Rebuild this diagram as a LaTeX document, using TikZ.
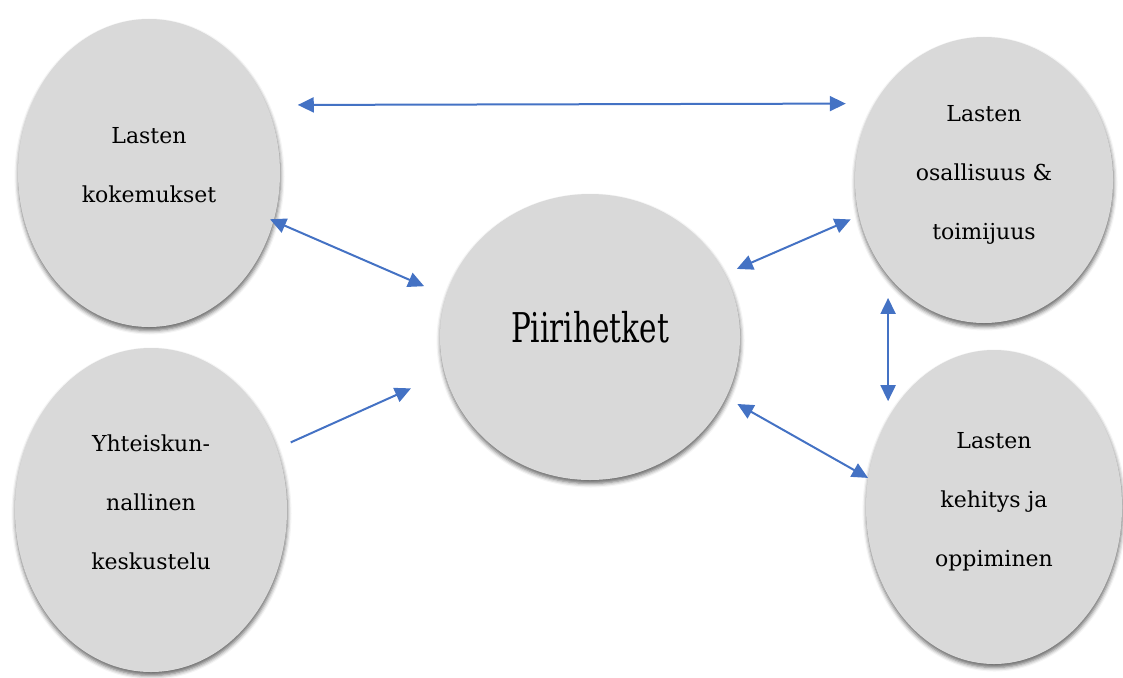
\documentclass[tikz,border=0pt]{standalone}
\usepackage{fontspec}
\setmainfont{DejaVu Serif}
\newfontfamily\bigserif[FakeStretch=0.72]{DejaVu Serif}
\usetikzlibrary{arrows.meta, shapes.geometric, shadows.blur}
\definecolor{bubblegray}{HTML}{D9D9D9}
\definecolor{linkblue}{HTML}{4472C4}
\tikzset{
    bubble/.style={
        ellipse, fill=bubblegray, align=center, inner sep=0pt,
        font=\fontsize{22}{59}\selectfont, text depth=16pt,
        blur shadow={shadow xshift=0.5pt, shadow yshift=-3.5pt, shadow blur radius=4pt, shadow opacity=60}
    },
    link/.style={draw=linkblue, line width=2pt, <->},
    >={Triangle[length=16pt,width=15pt]}
}
\begin{document}
\begin{tikzpicture}[x=1pt, y=-1pt]
    \useasboundingbox (0,0) rectangle (1123,677);
    % bubbles
    \node[bubble, minimum width=262pt, minimum height=308pt] (kok) at (149,173) {Lasten\\kokemukset};
    \node[bubble, minimum width=272pt, minimum height=324pt] (yht) at (151,510) {Yhteiskun-\\nallinen\\keskustelu};
    \node[bubble, minimum width=300pt, minimum height=286pt, font=\bigserif\fontsize{41}{48}\selectfont, text height=30pt, text depth=20pt] (pii) at (590,337) {Piirihetket};
    \node[bubble, minimum width=258pt, minimum height=286pt] (osa) at (984,180) {Lasten\\osallisuus \&\\toimijuus};
    \node[bubble, minimum width=256pt, minimum height=314pt] (keh) at (994,507) {Lasten\\kehitys ja\\oppiminen};
    % links
    \draw[link, shorten <=31pt, shorten >=29pt] (kok.30) -- (osa.145);
    \draw[link, shorten <=-4pt, shorten >=24pt] (kok.-21) -- (pii.164);
    \draw[link, ->, shorten <=15pt, shorten >=37pt] (yht.26) -- (pii.194);
    \draw[link, shorten <=13pt, shorten >=9pt] (pii.25) -- (osa.196);
    \draw[link, shorten <=22pt, shorten >=17pt] (osa.225) -- (osa.225 |- keh.140);
    \draw[link, shorten <=13pt] (pii.-24) -- (keh.167);
\end{tikzpicture}
\end{document}
